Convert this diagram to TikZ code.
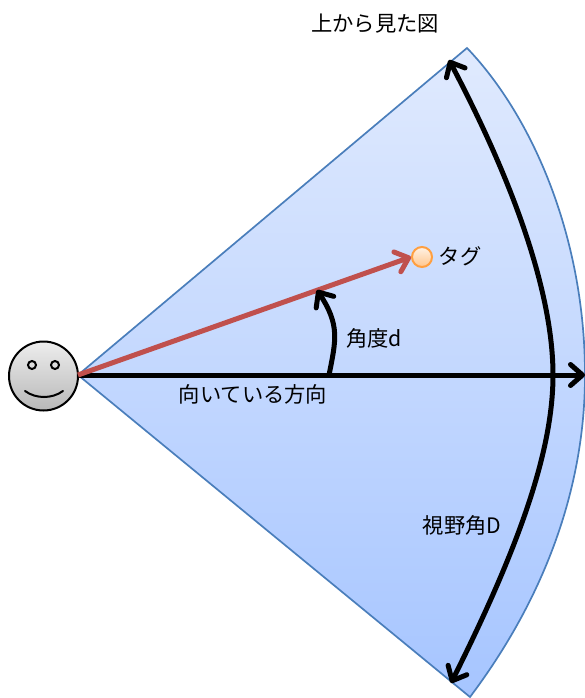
\documentclass[tikz,border=0pt]{standalone}
\usepackage{fontspec}
\setmainfont{Noto Sans CJK JP}
\usetikzlibrary{arrows.meta,calc}
\definecolor{edgeblue}{HTML}{4A7EBB}
\definecolor{redarrow}{HTML}{C0504D}
\tikzset{
  barbtip/.tip={Straight Barb[length=12pt,width=21pt,line cap=round,round,line width=5pt]},
  thick arrow/.style={draw=black,line width=5pt,-barbtip},
  label text/.style={font=\fontsize{21.3}{23}\selectfont,inner sep=0pt,text=black},
  face/.style={circle,draw=black,line width=2pt,minimum size=69pt,inner sep=0pt,top color=black!7,bottom color=black!28},
  eye/.style={circle,draw=black,line width=2pt,minimum size=8pt,inner sep=0pt},
  tagdot/.style={circle,draw=orange!75!white,line width=2pt,minimum size=20pt,inner sep=0pt,top color=orange!10!white,bottom color=orange!45!white},
}
\begin{document}
\begin{tikzpicture}[x=1pt,y=-1pt]
\useasboundingbox (0,0) rectangle (585,698);
\coordinate (apex) at (78,375);
\coordinate (top) at (467,48);
\coordinate (bot) at (470,697);
\coordinate (far) at (585,375);
\coordinate (angfrom) at (329,375);
\coordinate (angto) at (317,290);
\coordinate (fovtop) at (449,60);
\coordinate (fovmid) at (553,375);
\coordinate (fovbot) at (451,683);
\coordinate (smileL) at (25,391);
\coordinate (smileR) at (63,391);
% sector
\draw[draw=edgeblue,line width=1.7pt,
  top color={rgb,255:red,224;green,234;blue,254},bottom color={rgb,255:red,166;green,197;blue,255}]
  (apex) -- (top) .. controls (534,118) and (585,240) .. (585,375)
  .. controls (585,490) and (543,600) .. (bot) -- cycle;
% face
\node[face] (facen) at (43.5,376) {};
\node[eye] (eyeL) at (32,365) {};
\node[eye] (eyeR) at (55,365) {};
\draw[line width=2pt,line cap=round] (smileL) .. controls (36,399) and (52,399) .. (smileR);
% tag
\node[tagdot] (tag) at (422,257) {};
% arrows
\draw[thick arrow] (apex) -- (far);
\draw[draw=redarrow,line width=5pt,-barbtip] (apex) -- (tag.west);
\draw[thick arrow] (angfrom) .. controls (336,340) and (340,325) .. (angto);
\draw[line width=5pt,barbtip-barbtip]
  (fovtop) .. controls (520,195) and (553,300) .. (fovmid) .. controls (553,450) and (520,545) .. (fovbot);
% labels
\node[label text] (ttl) at (375,24) {上から見た図};
\node[label text] (tagl) at (460,256) {タグ};
\node[label text] (angl) at (374,338) {角度d};
\node[label text] (dirl) at (253,394) {向いている方向};
\node[label text] (fovl) at (462,525) {視野角D};
\end{tikzpicture}
\end{document}
